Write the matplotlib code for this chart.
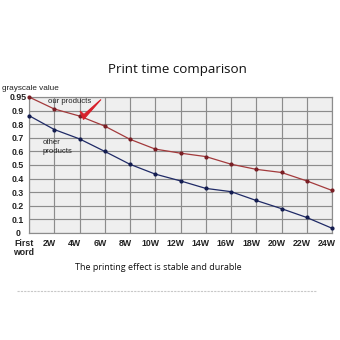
import numpy as np
import matplotlib
matplotlib.use("Agg")
import matplotlib.pyplot as plt
from matplotlib.transforms import ScaledTranslation
from matplotlib.patches import Polygon

x_labels = ["First\nword", "2W", "4W", "6W", "8W", "10W", "12W", "14W", "16W", "18W", "20W", "22W", "24W"]
our_products = [0.95, 0.906, 0.86, 0.786, 0.689, 0.617, 0.587, 0.562, 0.506, 0.468, 0.445, 0.383, 0.313]
other_products = [0.863, 0.761, 0.692, 0.60, 0.505, 0.433, 0.383, 0.328, 0.304, 0.239, 0.179, 0.114, 0.035]
y_ticks = [0, 0.1, 0.2, 0.3, 0.4, 0.5, 0.6, 0.7, 0.8, 0.9, 0.95]
y_tick_labels = ["0", "0.1", "0.2", "0.3", "0.4", "0.5", "0.6", "0.7", "0.8", "0.9", "0.95"]


def fwd(y):
    y = np.asarray(y, dtype=float)
    return np.where(y <= 0.9, y, 0.9 + (y - 0.9) * 2)


def inv(p):
    p = np.asarray(p, dtype=float)
    return np.where(p <= 0.9, p, 0.9 + (p - 0.9) / 2)


fig = plt.figure(figsize=(3.4, 3.4), dpi=100)
W, H = 340, 340
ax = fig.add_axes([29 / W, 1 - 233 / H, (332 - 29) / W, (233 - 97) / H])
ax.set_facecolor("#efefef")
ax.set_yscale("function", functions=(fwd, inv))
xs = np.arange(len(x_labels))
ax.set_xlim(0, len(x_labels) - 1)
ax.set_ylim(0, 0.95)

ax.set_xticks(xs)
ax.set_xticklabels(x_labels, fontsize=6.3, fontweight="bold", family="Liberation Sans",
                   color="#222222", linespacing=1.1)
ax.set_yticks(y_ticks)
ax.set_yticklabels(y_tick_labels, fontsize=6.3, fontweight="bold", family="Liberation Sans",
                   color="#222222")
ax.tick_params(length=0, pad=4)
ax.tick_params(axis="y", pad=8)
for lab in ax.get_yticklabels():
    lab.set_horizontalalignment("center")
offset = ScaledTranslation(-5 / 100, 0, fig.dpi_scale_trans)
for lab in ax.get_xticklabels():
    lab.set_transform(lab.get_transform() + offset)
    lab.set_verticalalignment("top")

ax.grid(True, color="#8c8c8c", linewidth=0.85)
ax.set_axisbelow(True)
for s in ax.spines.values():
    s.set_color("#8c8c8c")
    s.set_linewidth(0.85)

ax.plot(xs, our_products, color="#a33a3c", linewidth=0.9, marker="o", markersize=2.0,
        markerfacecolor="#7a1f25", markeredgecolor="#7a1f25", clip_on=False, zorder=5)
ax.plot(xs, other_products, color="#1f2a66", linewidth=0.9, marker="o", markersize=2.0,
        markerfacecolor="#141d50", markeredgecolor="#141d50", clip_on=False, zorder=5)

tf = dict(family="Liberation Sans", color="#222222")
fig.text(2 / W, 1 - 89 / H, "grayscale value", fontsize=5.9, va="center", ha="left", **tf)
fig.text(48 / W, 1 - 101 / H, "our products", fontsize=5.6, va="center", ha="left", **tf)
fig.text(43 / W, 1 - 147 / H, "other\nproducts", fontsize=5.6, va="center", ha="left",
         linespacing=1.3, **tf)

# red check mark decoration (pixel coordinates)
pts = [(80, 111), (83.5, 119.5), (101, 99.5), (84, 114.5)]
poly = Polygon([(px / W, 1 - py / H) for px, py in pts], closed=True,
               transform=fig.transFigure, facecolor="#d8202b", edgecolor="#d8202b",
               linewidth=0.8, zorder=10)
fig.add_artist(poly)

fig.text(177 / W, 1 - 70 / H, "Print time comparison", fontsize=9.6, ha="center", va="center",
         family="Open Sans", color="#111111")
fig.text(158 / W, 1 - 268 / H, "The printing effect is stable and durable", fontsize=6.5,
         ha="center", va="center", family="Open Sans", color="#111111")

fig.add_artist(plt.Line2D([17 / W, 317 / W], [1 - 291 / H, 1 - 291 / H], transform=fig.transFigure,
                          color="#c8c8c8", linewidth=0.8, linestyle=(0, (2, 1))))

fig.savefig("out.png", dpi=100, facecolor="white")
